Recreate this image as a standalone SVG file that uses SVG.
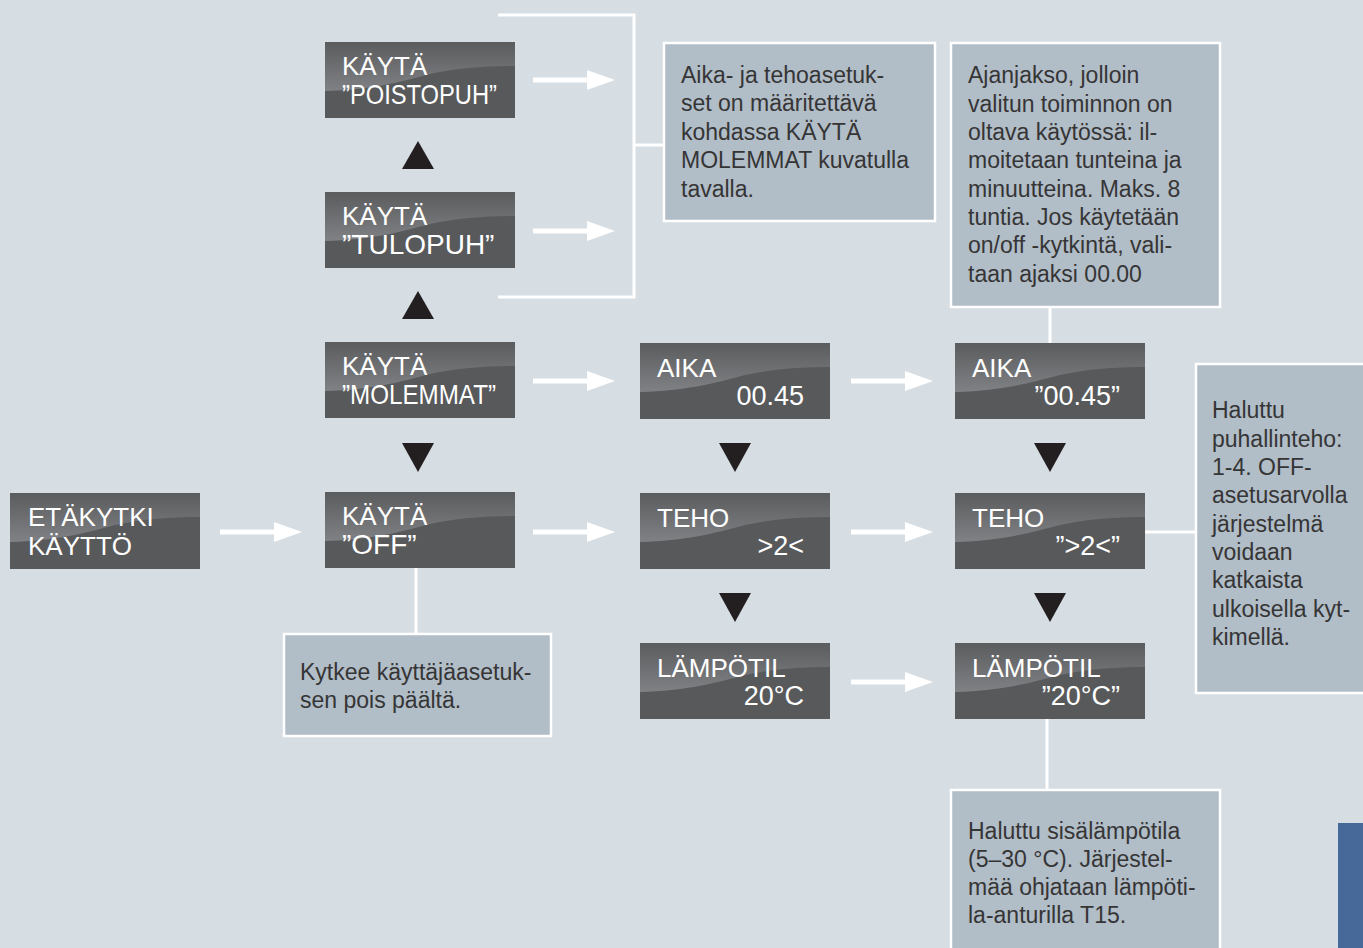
<svg xmlns="http://www.w3.org/2000/svg" xmlns:xlink="http://www.w3.org/1999/xlink" width="1363" height="948" viewBox="0 0 1363 948">
<defs>
<linearGradient id="hl" x1="0" y1="0" x2="0" y2="1">
<stop offset="0" stop-color="#5b5c5e"/>
<stop offset="1" stop-color="#808184"/>
</linearGradient>
<g id="box">
<rect x="0" y="0" width="190" height="76" fill="#58595b"/>
<path d="M0,0 H190 V24 C160,24 132,26 105,32 C75,40 45,48 0,49 Z" fill="url(#hl)"/>
</g>
<polygon id="up" points="16,0 32,28 0,28" fill="#231f20"/>
<polygon id="down" points="0,0 32,0 16,29" fill="#231f20"/>
<g id="arr">
<rect x="0" y="-2.5" width="56" height="5" fill="#ffffff"/>
<polygon points="54,-10 82,0 54,10" fill="#ffffff"/>
</g>
</defs>
<style>
.t1{font-family:"Liberation Sans",Arial,Helvetica,sans-serif;font-size:26px;fill:#ffffff}
.t2{font-family:"Liberation Sans",Arial,Helvetica,sans-serif;font-size:28px;fill:#ffffff}
.t3{font-family:"Liberation Sans",Arial,Helvetica,sans-serif;font-size:27px;fill:#ffffff;text-anchor:end}
.note rect{fill:#b1bdc7;stroke:#ffffff;stroke-width:2.5}
.nt{font-family:"Liberation Sans",Arial,Helvetica,sans-serif;font-size:23px;fill:#363536}
.ln{stroke:#ffffff;stroke-width:3;fill:none}
</style>
<rect x="0" y="0" width="1363" height="948" fill="#d6dde3"/>
<rect x="1338" y="823" width="25" height="125" fill="#46699a"/>

<g id="connectors">
<path class="ln" d="M498,15 H634 V297 H498 M634,145 H663"/>
<path class="ln" d="M416,568 V633"/>
<path class="ln" d="M1050,307 V343"/>
<path class="ln" d="M1145,532 H1195"/>
<path class="ln" d="M1047,719 V790"/>
<use xlink:href="#arr" x="533" y="80"/>
<use xlink:href="#arr" x="533" y="231"/>
<use xlink:href="#arr" x="533" y="381"/>
<use xlink:href="#arr" x="851" y="381"/>
<use xlink:href="#arr" x="220" y="532"/>
<use xlink:href="#arr" x="533" y="532"/>
<use xlink:href="#arr" x="851" y="532"/>
<use xlink:href="#arr" x="851" y="682"/>
<use xlink:href="#up" x="402" y="141"/>
<use xlink:href="#up" x="402" y="291"/>
<use xlink:href="#down" x="402" y="443"/>
<use xlink:href="#down" x="719" y="443"/>
<use xlink:href="#down" x="719" y="593"/>
<use xlink:href="#down" x="1034" y="443"/>
<use xlink:href="#down" x="1034" y="593"/>
</g>

<g id="n-poistopuh" transform="translate(325,42)">
<use xlink:href="#box"/>
<text class="t1" x="17" y="33">KÄYTÄ</text>
<text class="t2" x="17" y="62" textLength="155" lengthAdjust="spacingAndGlyphs">”POISTOPUH”</text>
</g>
<g id="n-tulopuh" transform="translate(325,192)">
<use xlink:href="#box"/>
<text class="t1" x="17" y="33">KÄYTÄ</text>
<text class="t2" x="17" y="62">”TULOPUH”</text>
</g>
<g id="n-molemmat" transform="translate(325,342)">
<use xlink:href="#box"/>
<text class="t1" x="17" y="33">KÄYTÄ</text>
<text class="t2" x="17" y="62" textLength="154" lengthAdjust="spacingAndGlyphs">”MOLEMMAT”</text>
</g>
<g id="n-off" transform="translate(325,492)">
<use xlink:href="#box"/>
<text class="t1" x="17" y="33">KÄYTÄ</text>
<text class="t2" x="17" y="62">”OFF”</text>
</g>
<g id="n-etakytki" transform="translate(10,493)">
<use xlink:href="#box"/>
<text class="t1" x="18" y="33">ETÄKYTKI</text>
<text class="t1" x="18" y="62">KÄYTTÖ</text>
</g>
<g id="n-aika" transform="translate(640,343)">
<use xlink:href="#box"/>
<text class="t1" x="17" y="34">AIKA</text>
<text class="t3" x="164" y="62">00.45</text>
</g>
<g id="n-teho" transform="translate(640,493)">
<use xlink:href="#box"/>
<text class="t1" x="17" y="34">TEHO</text>
<text class="t3" x="164" y="62">&gt;2&lt;</text>
</g>
<g id="n-lampotil" transform="translate(640,643)">
<use xlink:href="#box"/>
<text class="t1" x="17" y="34">LÄMPÖTIL</text>
<text class="t3" x="164" y="62">20°C</text>
</g>
<g id="n-aika2" transform="translate(955,343)">
<use xlink:href="#box"/>
<text class="t1" x="17" y="34">AIKA</text>
<text class="t3" x="165" y="62">”00.45”</text>
</g>
<g id="n-teho2" transform="translate(955,493)">
<use xlink:href="#box"/>
<text class="t1" x="17" y="34">TEHO</text>
<text class="t3" x="165" y="62">”&gt;2&lt;”</text>
</g>
<g id="n-lampotil2" transform="translate(955,643)">
<use xlink:href="#box"/>
<text class="t1" x="17" y="34">LÄMPÖTIL</text>
<text class="t3" x="165" y="62">”20°C”</text>
</g>

<g id="note-asetukset" class="note">
<rect x="664" y="43" width="271" height="178"/>
<text class="nt" x="681" y="83">Aika- ja tehoasetuk-</text>
<text class="nt" x="681" y="111">set on määritettävä</text>
<text class="nt" x="681" y="140">kohdassa KÄYTÄ</text>
<text class="nt" x="681" y="168">MOLEMMAT kuvatulla</text>
<text class="nt" x="681" y="197">tavalla.</text>
</g>
<g id="note-ajanjakso" class="note">
<rect x="951" y="43" width="269" height="264"/>
<text class="nt" x="968" y="83">Ajanjakso, jolloin</text>
<text class="nt" x="968" y="112">valitun toiminnon on</text>
<text class="nt" x="968" y="140">oltava käytössä: il-</text>
<text class="nt" x="968" y="168">moitetaan tunteina ja</text>
<text class="nt" x="968" y="197">minuutteina. Maks. 8</text>
<text class="nt" x="968" y="225">tuntia. Jos käytetään</text>
<text class="nt" x="968" y="253">on/off -kytkintä, vali-</text>
<text class="nt" x="968" y="282">taan ajaksi 00.00</text>
</g>
<g id="note-teho" class="note">
<rect x="1196" y="364" width="170" height="329"/>
<text class="nt" x="1212" y="418">Haluttu</text>
<text class="nt" x="1212" y="447">puhallinteho:</text>
<text class="nt" x="1212" y="475">1-4. OFF-</text>
<text class="nt" x="1212" y="503">asetusarvolla</text>
<text class="nt" x="1212" y="532">järjestelmä</text>
<text class="nt" x="1212" y="560">voidaan</text>
<text class="nt" x="1212" y="588">katkaista</text>
<text class="nt" x="1212" y="617">ulkoisella kyt-</text>
<text class="nt" x="1212" y="645">kimellä.</text>
</g>
<g id="note-off" class="note">
<rect x="284" y="634" width="267" height="102"/>
<text class="nt" x="300" y="680">Kytkee käyttäjäasetuk-</text>
<text class="nt" x="300" y="708">sen pois päältä.</text>
</g>
<g id="note-lampo" class="note">
<rect x="951" y="790" width="269" height="165"/>
<text class="nt" x="968" y="839">Haluttu sisälämpötila</text>
<text class="nt" x="968" y="867">(5–30 °C). Järjestel-</text>
<text class="nt" x="968" y="895">mää ohjataan lämpöti-</text>
<text class="nt" x="968" y="923">la-anturilla T15.</text>
</g>
</svg>
